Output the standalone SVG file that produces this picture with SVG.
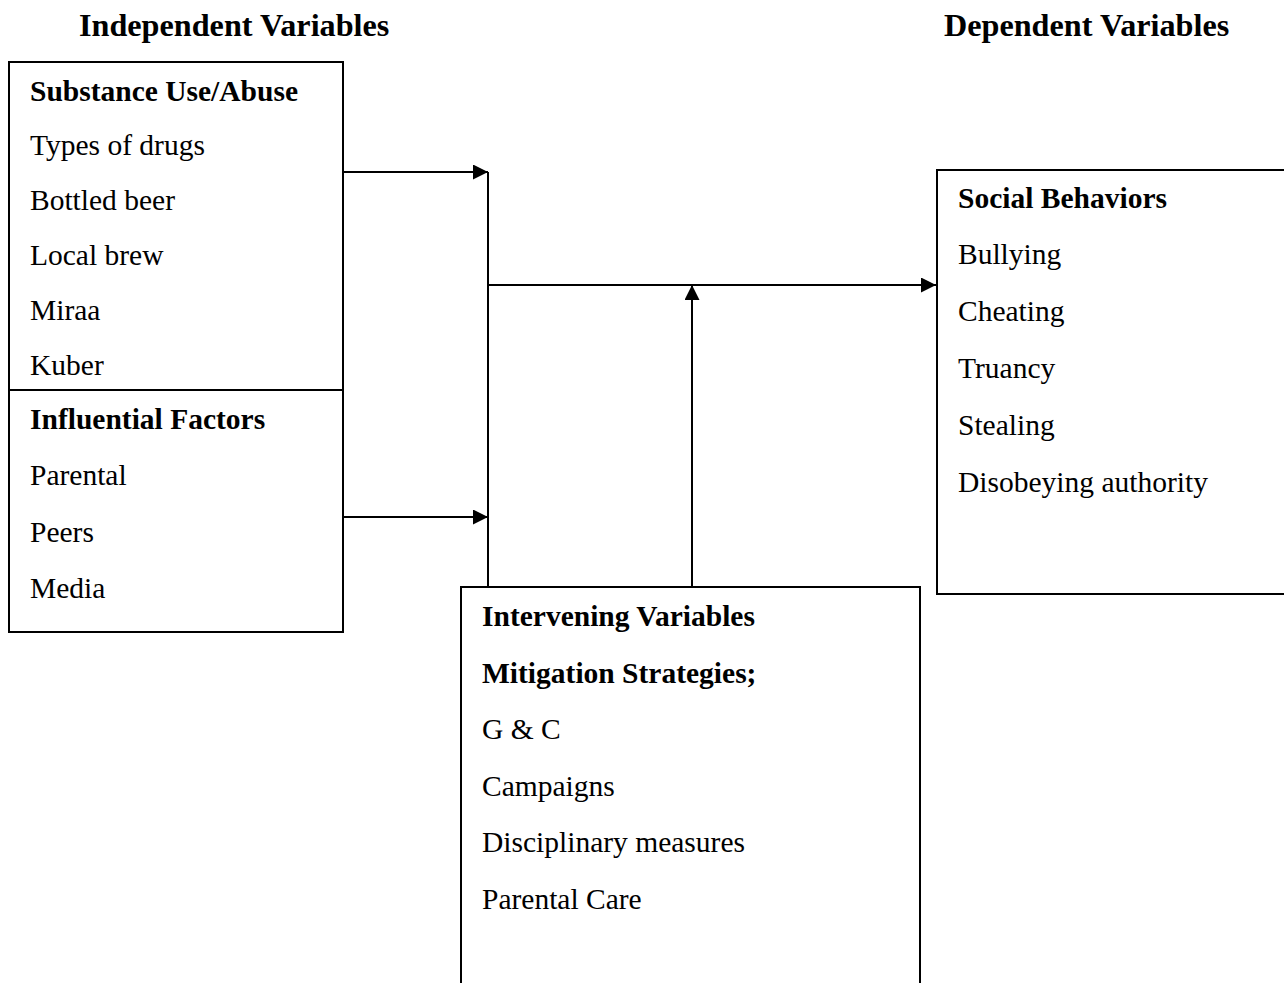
<svg xmlns="http://www.w3.org/2000/svg" width="1284" height="983" viewBox="0 0 1284 983">
<defs>
<marker id="ah" viewBox="0 0 10 10" refX="10" refY="5" markerWidth="8" markerHeight="7.5" orient="auto" markerUnits="strokeWidth">
<path d="M0,0 L10,5 L0,10 z" fill="#000"/>
</marker>
</defs>
<style>
text{font-family:"Liberation Serif","Times New Roman",serif;font-size:29.5px;fill:#000}
.b{font-weight:bold}
.h{font-weight:bold;font-size:32.2px}
.box{fill:#fff;stroke:#000;stroke-width:2}
.ln{fill:none;stroke:#000;stroke-width:2}
</style>
<rect width="1284" height="983" fill="#fff"/>
<g id="headers">
<text class="h" x="79" y="36">Independent Variables</text>
<text class="h" x="944" y="36">Dependent Variables</text>
</g>
<g id="connectors">
<polyline class="ln" points="488,172 488,586"/>
<line class="ln" x1="344" y1="172" x2="488" y2="172" marker-end="url(#ah)"/>
<line class="ln" x1="344" y1="517" x2="488" y2="517" marker-end="url(#ah)"/>
<line class="ln" x1="488" y1="285" x2="936" y2="285" marker-end="url(#ah)"/>
<line class="ln" x1="692" y1="586" x2="692" y2="285" marker-end="url(#ah)"/>
</g>
<g id="substance">
<rect class="box" x="9" y="62" width="334" height="328"/>
<text class="b" x="30" y="101">Substance Use/Abuse</text>
<text x="30" y="155">Types of drugs</text>
<text x="30" y="210">Bottled beer</text>
<text x="30" y="265">Local brew</text>
<text x="30" y="320">Miraa</text>
<text x="30" y="375">Kuber</text>
</g>
<g id="influential">
<rect class="box" x="9" y="390" width="334" height="242"/>
<text class="b" x="30" y="429">Influential Factors</text>
<text x="30" y="485">Parental</text>
<text x="30" y="542">Peers</text>
<text x="30" y="598">Media</text>
</g>
<g id="social">
<rect class="box" x="937" y="170" width="360" height="424"/>
<text class="b" x="958" y="208">Social Behaviors</text>
<text x="958" y="264">Bullying</text>
<text x="958" y="321">Cheating</text>
<text x="958" y="378">Truancy</text>
<text x="958" y="435">Stealing</text>
<text x="958" y="492">Disobeying authority</text>
</g>
<g id="intervening">
<rect class="box" x="461" y="587" width="459" height="420"/>
<text class="b" x="482" y="626">Intervening Variables</text>
<text class="b" x="482" y="683">Mitigation Strategies;</text>
<text x="482" y="739">G &amp; C</text>
<text x="482" y="796">Campaigns</text>
<text x="482" y="852">Disciplinary measures</text>
<text x="482" y="909">Parental Care</text>
</g>
</svg>
